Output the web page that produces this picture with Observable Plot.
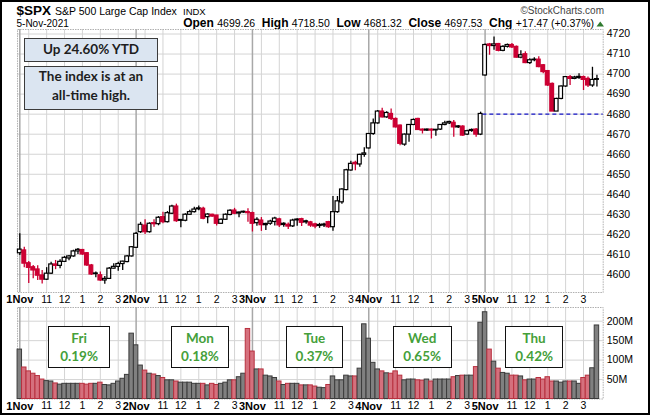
<!DOCTYPE html>
<html><head><meta charset="utf-8">
<script src="https://cdn.jsdelivr.net/npm/d3@7"></script>
<script src="https://cdn.jsdelivr.net/npm/@observablehq/plot@0.6"></script>
<style>
body{margin:0;background:#fff;}
#chart{position:relative;width:650px;height:415px;overflow:hidden;background:#fff;font-family:"Liberation Sans",Arial,sans-serif;}
.note{position:absolute;box-sizing:border-box;border:1.5px solid #3b3b3b;background:#dbe5f1;font-family:Lato,sans-serif;font-weight:bold;color:#1e1e1e;text-align:center;font-size:13.5px;}
.day{position:absolute;box-sizing:border-box;border:1.5px solid #111;background:#fff;font-family:Lato,sans-serif;font-weight:bold;color:#45a03a;text-align:center;font-size:13.5px;line-height:18.5px;padding-top:1.5px;}
.frame{position:absolute;left:0;top:0;width:650px;height:415px;box-sizing:border-box;border:2px solid #000;pointer-events:none;}
</style></head>
<body><div id="chart"></div>
<script>
// ---------- data (15-minute bars, 1–5 Nov 2021) ----------
const prevClose = 4605.38;
const open = [
4610.6,4612.0,4605.6,4603.6,4602.5,4599.5,4597.4,4600.4,4605.0,4604.3,4606.3,4608.0,4609.0,4611.5,4612.2,4610.6,4604.5,4600.5,4599.6,4597.0,4597.8,4602.9,4603.8,4605.2,4606.2,4609.0,
4613.3,4621.1,4624.4,4621.1,4625.6,4625.1,4628.6,4626.1,4630.3,4633.9,4627.2,4626.8,4629.8,4631.1,4632.5,4632.8,4628.6,4629.8,4629.4,4625.3,4627.3,4629.7,4631.9,4630.4,4630.9,4631.1,
4630.6,4625.6,4626.9,4624.6,4625.3,4626.2,4627.5,4625.3,4624.8,4624.0,4627.4,4627.6,4626.5,4626.0,4625.0,4624.7,4624.4,4626.1,4623.6,4631.1,4636.0,4642.1,4651.9,4655.7,4654.9,4659.7,
4662.9,4670.1,4675.4,4681.3,4678.4,4680.1,4677.6,4674.3,4664.8,4669.8,4674.6,4677.6,4672.3,4671.8,4672.3,4671.9,4672.3,4674.6,4675.4,4675.7,4673.4,4673.8,4669.8,4671.6,4672.3,4669.8,
4699.3,4714.8,4714.0,4715.0,4711.6,4713.6,4714.5,4713.6,4708.2,4709.9,4705.5,4706.9,4707.2,4704.4,4701.5,4695.1,4681.3,4687.6,4693.8,4698.5,4697.6,4698.0,4698.5,4697.6,4694.3,4697.1];
const high = [
4620.3,4613.6,4606.5,4604.5,4604.4,4602.0,4603.4,4606.1,4607.0,4607.4,4609.0,4609.5,4612.1,4613.0,4612.5,4611.0,4605.0,4601.2,4601.2,4599.0,4603.5,4605.3,4606.1,4606.6,4609.5,4613.9,
4621.0,4626.0,4627.3,4625.8,4627.3,4628.9,4631.1,4631.4,4634.5,4635.1,4627.4,4630.3,4632.0,4633.6,4634.2,4633.5,4630.3,4630.1,4629.6,4627.7,4630.2,4632.3,4633.0,4631.2,4631.6,4632.8,
4631.1,4628.3,4628.4,4625.5,4627.0,4628.5,4628.0,4625.8,4625.7,4627.5,4627.8,4628.0,4627.0,4626.5,4625.5,4625.5,4625.5,4626.5,4638.9,4638.9,4642.8,4652.5,4656.5,4656.5,4660.0,4663.2,
4670.4,4677.6,4681.8,4683.0,4681.2,4682.6,4678.1,4674.6,4670.1,4674.8,4677.6,4677.9,4672.6,4672.6,4672.6,4672.4,4674.9,4676.4,4676.4,4676.8,4674.3,4674.2,4672.0,4672.6,4672.8,4681.0,
4715.0,4715.3,4718.5,4715.3,4714.2,4715.0,4715.3,4714.0,4711.6,4711.1,4707.7,4708.2,4708.6,4704.8,4701.8,4695.5,4687.9,4694.0,4698.8,4699.3,4698.9,4700.2,4699.0,4698.5,4703.4,4699.4];
const low = [
4609.5,4603.4,4595.5,4597.9,4597.0,4595.3,4597.0,4600.0,4602.4,4602.9,4606.0,4606.8,4608.6,4610.0,4609.5,4604.0,4599.5,4598.4,4596.5,4595.1,4597.5,4602.7,4601.6,4602.0,4605.9,4608.7,
4613.3,4620.5,4620.0,4620.6,4623.6,4624.3,4625.3,4625.7,4629.9,4626.0,4623.3,4626.3,4629.5,4630.7,4631.8,4627.3,4625.3,4628.5,4624.2,4624.9,4627.0,4629.3,4629.8,4628.3,4630.5,4626.1,
4621.2,4624.0,4621.5,4622.0,4624.5,4624.2,4623.5,4623.6,4622.4,4623.5,4624.0,4623.9,4625.0,4623.5,4622.8,4623.0,4623.5,4623.0,4621.6,4630.5,4635.0,4641.8,4651.5,4651.8,4653.5,4658.5,
4662.6,4669.5,4675.0,4678.1,4678.0,4676.8,4673.1,4664.2,4664.0,4666.0,4674.3,4671.8,4670.1,4671.3,4667.6,4669.0,4671.9,4674.2,4674.8,4668.5,4672.9,4669.0,4669.4,4671.0,4668.5,4669.3,
4699.0,4709.4,4711.9,4711.1,4711.1,4713.0,4712.8,4708.0,4707.7,4705.2,4704.8,4706.1,4703.2,4700.2,4693.8,4681.3,4681.4,4687.2,4693.4,4694.3,4697.2,4697.4,4691.8,4693.3,4693.4,4693.6];
const close = [
4612.4,4605.4,4603.3,4602.0,4599.4,4597.4,4600.4,4605.0,4604.3,4606.3,4608.3,4609.0,4611.5,4612.3,4610.0,4604.5,4600.0,4600.2,4597.0,4597.8,4602.9,4603.8,4605.2,4606.4,4609.0,4613.6,
4620.3,4624.8,4621.1,4625.3,4625.1,4628.3,4626.1,4630.6,4633.9,4626.6,4626.8,4629.8,4631.1,4632.4,4633.0,4627.8,4629.9,4628.9,4625.3,4627.3,4629.8,4631.8,4630.3,4630.9,4631.3,4630.6,
4625.3,4627.3,4624.6,4625.2,4626.4,4627.9,4624.5,4624.7,4623.9,4626.9,4627.0,4625.8,4626.0,4624.4,4623.9,4624.2,4624.9,4623.6,4631.1,4636.5,4642.4,4652.0,4655.2,4655.0,4659.7,4660.4,
4670.1,4675.4,4681.3,4678.4,4680.6,4677.6,4673.4,4665.2,4669.8,4674.6,4677.1,4672.1,4671.8,4672.3,4671.8,4672.2,4674.6,4675.4,4676.1,4673.4,4673.9,4669.3,4671.5,4672.1,4669.8,4680.1,
4714.5,4714.0,4714.8,4711.6,4713.6,4714.5,4713.3,4708.2,4709.4,4705.5,4706.9,4707.2,4703.5,4701.0,4694.3,4681.3,4687.6,4693.8,4698.5,4697.6,4698.3,4698.6,4697.1,4694.3,4697.1,4697.5];
const volume = [ // millions of shares
127,81,71,65,59,50,46,45,40,37,39,39,39,39,39,37,39,39,42,36,35,39,45,52,62,168,
138,86,73,65,63,59,54,48,48,45,42,42,42,39,39,39,35,39,36,39,42,48,48,56,65,180,
122,76,76,60,58,54,45,36,39,39,39,35,35,35,32,29,28,36,58,48,48,60,58,58,78,192,
155,93,76,71,66,65,71,60,48,50,50,48,47,50,45,50,50,50,50,56,59,60,60,60,82,196,
223,127,96,78,67,65,60,60,58,48,50,50,54,50,56,45,45,42,45,45,45,39,54,60,79,189];

const dayLabels = ["1Nov","2Nov","3Nov","4Nov","5Nov"];
const hourLabels = ["11","12","1","2","3"];
const hourClock = [11,12,13,14,15];
const priceTicks = [4600,4610,4620,4630,4640,4650,4660,4670,4680,4690,4700,4710,4720];
const volumeTicks = [50,100,150,200];
const refLevel = 4680;

const symbol = "$SPX", longName = "S&P 500 Large Cap Index", exchange = "INDX";
const dateText = "5-Nov-2021", credit = "\u00A9StockCharts.com";
const quoteLabels = ["Open","High","Low","Close","Chg"];
const quoteValues = ["4699.26","4718.50","4681.32","4697.53","+17.47 (+0.37%)"];
const noteLines1 = ["Up 24.60% YTD"];
const noteLines2 = ["The index is at an","all-time high."];
const weekdayNames = ["Fri","Mon","Tue","Wed","Thu"];
const weekdayChanges = ["0.19%","0.18%","0.37%","0.65%","0.42%"];

// ---------- derived ----------
const barsPerDay = 26, barMinutes = 15, sessionOpen = 9*60 + 30;
const barOf = (d, minutes) => d*barsPerDay + (minutes - sessionOpen)/barMinutes;
const dayTicks = dayLabels.map((_, d) => barOf(d, sessionOpen));
const hourTicks = dayLabels.flatMap((_, d) => hourClock.map(h => barOf(d, h*60)));
const hourGrid = dayLabels.flatMap((_, d) => [10, ...hourClock].map(h => barOf(d, h*60)));
const tickText = new Map();
dayTicks.forEach((t, d) => tickText.set(t, dayLabels[d]));
hourTicks.forEach((t, k) => tickText.set(t, hourLabels[k % hourLabels.length]));

const red = "#cc0033";
const bars = open.map((o, i) => ({
  i, o, h: high[i], l: low[i], c: close[i], v: volume[i],
  up: close[i] >= o,
  down: close[i] < (i ? close[i-1] : prevClose)
}));
const ink = d => d.down ? red : "#000";
const refFrom = dayTicks[dayTicks.length - 1] - 0.5;

const xDomain = [-0.514, 130.4];
const font = "'Liberation Sans', Arial, sans-serif";
const common = {
  width: 650, marginLeft: 17, marginRight: 47.3,
  x: {domain: xDomain},
  color: {type: "identity"},
  style: {fontFamily: font, fontSize: "10.5px", color: "#000", background: "transparent", overflow: "visible"}
};
const gridMarks = [
  Plot.gridX({ticks: hourGrid, stroke: "#d4d4d4", strokeOpacity: 1}),
  Plot.gridX({ticks: dayTicks, stroke: "#a8a8a8", strokeOpacity: 1, strokeWidth: 1.5})
];
const xAxes = [
  Plot.axisX({ticks: hourTicks, tickSize: 0, tickPadding: 3, tickFormat: d => tickText.get(d), label: null}),
  Plot.axisX({ticks: dayTicks, tickSize: 0, tickPadding: 3, tickFormat: d => tickText.get(d), fontWeight: "bold", fontSize: 11, label: null})
];

const priceSvg = Plot.plot({
  ...common, height: 278, marginTop: 0, marginBottom: 15,
  y: {domain: [4591.0, 4722.25]},
  marks: [
    Plot.gridY({ticks: priceTicks, stroke: "#d4d4d4", strokeOpacity: 1}),
    ...gridMarks,
    Plot.frame({stroke: "#b0b0b0", strokeDasharray: "1.5,1"}),
    Plot.ruleY([refLevel], {x1: refFrom, x2: xDomain[1], stroke: "#1414c8", strokeWidth: 1.3, strokeDasharray: "4,3"}),
    Plot.ruleX(bars, {x: "i", y1: "l", y2: "h", stroke: ink, strokeWidth: 1.3}),
    Plot.rect(bars, {x1: d => d.i - 0.42, x2: d => d.i + 0.42, y1: "o", y2: "c",
      fill: d => d.up ? "#fff" : ink(d), stroke: ink, strokeWidth: 1.2}),
    Plot.axisY({anchor: "right", ticks: priceTicks, tickSize: 0, tickPadding: 3.5, tickFormat: d => String(d), label: null}),
    ...xAxes
  ]
});

const volSvg = Plot.plot({
  ...common, height: 106, marginTop: 0, marginBottom: 14.5,
  y: {domain: [0, 235.2]},
  marks: [
    Plot.gridY({ticks: volumeTicks, stroke: "#d4d4d4", strokeOpacity: 1}),
    ...gridMarks,
    Plot.frame({stroke: "#b0b0b0", strokeDasharray: "1.5,1"}),
    Plot.rect(bars, {x1: d => d.i - 0.5, x2: d => d.i + 0.5, y1: 0, y2: "v",
      fill: d => d.down ? "#d5707d" : "#808080",
      stroke: d => d.down ? "#b8303f" : "#3c3c3c", strokeWidth: 1}),
    Plot.axisY({anchor: "right", ticks: volumeTicks, tickSize: 0, tickPadding: 3.5, tickFormat: d => d + "M", label: null}),
    ...xAxes
  ]
});

// ---------- layout ----------
const chart = document.getElementById("chart");
function place(el, left, top) { el.style.position = "absolute"; el.style.left = left + "px"; el.style.top = top + "px"; chart.appendChild(el); }

// header
const hdr = d3.create("svg").attr("width", 650).attr("height", 29).attr("font-family", font);
hdr.append("text").attr("x", 16.5).attr("y", 14.5).attr("font-size", 13.5).attr("font-weight", "bold").text(symbol);
hdr.append("text").attr("x", 55).attr("y", 14.5).attr("font-size", 10.5).text(longName);
hdr.append("text").attr("x", 183).attr("y", 14.5).attr("font-size", 9.5).text(exchange);
hdr.append("text").attr("x", 604).attr("y", 14).attr("font-size", 10).attr("fill", "#444").attr("text-anchor", "end").text(credit);
hdr.append("text").attr("x", 16.5).attr("y", 26.5).attr("font-size", 10).text(dateText);
const q = hdr.append("text").attr("x", 594).attr("y", 26.5).attr("text-anchor", "end").attr("font-size", 10.5);
quoteLabels.forEach((lab, k) => {
  q.append("tspan").attr("font-weight", "bold").attr("font-size", 12).text((k ? "  " : "") + lab + " ");
  q.append("tspan").text(quoteValues[k]);
});
q.attr("xml:space", "preserve").style("white-space", "pre");
hdr.append("path").attr("d", "M596.5,26.5 L604,26.5 L600.25,21.5 Z").attr("fill", "#2f7a2f");
place(hdr.node(), 0, 0);

place(priceSvg, 0, 29);
place(volSvg, 0, 307);

// annotation boxes
function note(lines, left, top, w, h, cls, lh) {
  const d = document.createElement("div");
  d.className = cls;
  d.style.width = w + "px"; d.style.height = h + "px";
  if (lh) d.style.lineHeight = lh + "px";
  lines.forEach((t, k) => { if (k) d.appendChild(document.createElement("br")); d.appendChild(document.createTextNode(t)); });
  place(d, left, top);
}
note(noteLines1, 24.3, 38.3, 133.4, 24, "note", 21);
note(noteLines2, 24.3, 65.7, 133.4, 44.3, "note", 19);
const dayBoxLeft = [48.3, 171, 285.7, 392.7, 505];
const dayBoxWidth = [61.7, 58, 57.6, 59, 58.3];
weekdayNames.forEach((n, k) => note([n, weekdayChanges[k]], dayBoxLeft[k], 326, dayBoxWidth[k], 42.3, "day"));

const fr = document.createElement("div"); fr.className = "frame"; chart.appendChild(fr);
</script></body></html>
